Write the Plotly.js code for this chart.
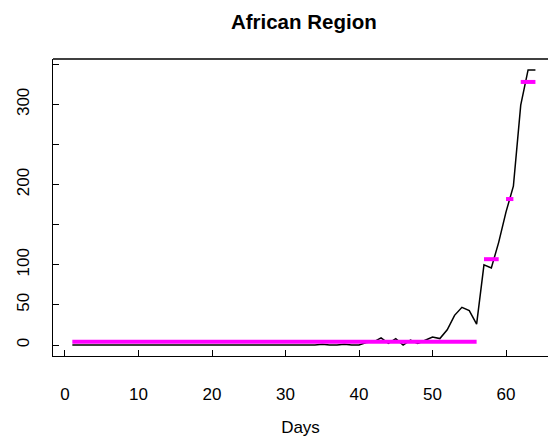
<!DOCTYPE html>
<html>
<head>
<meta charset="utf-8">
<script src="https://cdn.plot.ly/plotly-3.0.1.min.js"></script>
<style>html,body{margin:0;padding:0;background:#fff;}#chart{width:548px;height:441px;}</style>
</head>
<body>
<div id="chart"></div>
<script>
// Daily counts, African Region
const days = [];
for (let d = 1; d <= 64; d++) days.push(d);
const cases = [
  0,0,0,0,0,0,0,0,0,0,
  0,0,0,0,0,0,0,0,0,0,
  0,0,0,0,0,0,0,0,0,0,
  0,0,0,0,1,0,0,1,0,0,
  3,4,9,2,8,0,6,2,6,10,
  8,19,37,47,43,26,100,96,128,166,
  198,299,343,343
];
// Piecewise-constant segment means (magenta)
const segStart = [1, 57, 60, 62];
const segEnd   = [56, 59, 61, 64];
const segMean  = [4.1, 107, 182, 328];

const yTickVals = [0, 50, 100, 150, 200, 250, 300, 350];
const yTickText = ['0', '50', '100', '', '200', '', '300', ''];
const xTickVals = [0, 10, 20, 30, 40, 50, 60];

const segX = [], segY = [];
for (let i = 0; i < segStart.length; i++) {
  segX.push(segStart[i], segEnd[i], null);
  segY.push(segMean[i], segMean[i], null);
}

const FONT = 'Liberation Sans, Arial, sans-serif';

const traces = [
  {x: days, y: cases, type: 'scatter', mode: 'lines',
   line: {color: '#000000', width: 1.5}, hoverinfo: 'x+y', showlegend: false},
  {x: segX, y: segY, type: 'scatter', mode: 'lines',
   line: {color: '#FF00FF', width: 4}, connectgaps: false, showlegend: false}
];

const layout = {
  width: 548, height: 441,
  margin: {l: 53, r: 0, t: 59, b: 85, pad: 0},
  paper_bgcolor: '#ffffff', plot_bgcolor: '#ffffff',
  font: {family: FONT, size: 17, color: '#000000'},
  title: {text: '<b>African Region</b>', font: {family: FONT, size: 20.5, color: '#000'},
          x: 303.8 / 548, xref: 'container', xanchor: 'center',
          y: 1 - 22 / 441, yref: 'container', yanchor: 'middle'},
  xaxis: {
    range: [-1.63, 65.71], autorange: false,
    tickvals: xTickVals, ticks: 'inside', ticklen: 6, tickcolor: '#000', tickwidth: 1,
    showline: true, linecolor: '#000', linewidth: 1.3,
    showgrid: false, zeroline: false,
    ticklabelstandoff: 22,
    tickfont: {family: FONT, size: 17, color: '#000'},
    title: {text: 'Days', font: {family: FONT, size: 17, color: '#000'}, standoff: 18}
  },
  yaxis: {
    range: [-13.7, 356.6], autorange: false,
    tickvals: yTickVals, ticktext: yTickText, ticks: 'inside', ticklen: 6, tickcolor: '#000', tickwidth: 1,
    showline: true, linecolor: '#000', linewidth: 1.3,
    showgrid: false, zeroline: false,
    tickangle: -90, ticklabelstandoff: 16,
    tickfont: {family: FONT, size: 17, color: '#000'}
  },
  shapes: [
    {type: 'line', xref: 'paper', yref: 'paper', x0: 0, x1: 1, y0: 1, y1: 1,
     line: {color: '#000', width: 1.3}}
  ]
};

Plotly.newPlot('chart', traces, layout, {displayModeBar: false, staticPlot: true});
</script>
</body>
</html>
